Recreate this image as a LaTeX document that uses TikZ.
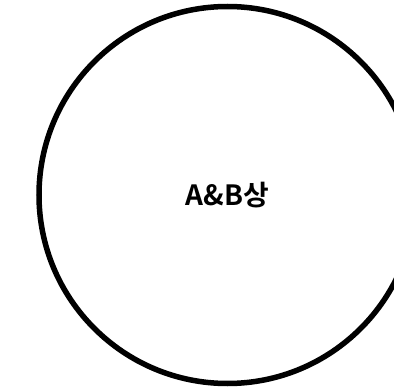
\documentclass[tikz,border=0pt]{standalone}
\usepackage{fontspec}
\usepackage{tikz}
\newfontfamily\krfont{Noto Sans CJK KR}[BoldFont={Noto Sans CJK KR Bold}]

\begin{document}
\begin{tikzpicture}[x=1bp, y=1bp, every node/.style={font=\krfont\bfseries\fontsize{28}{33}\selectfont}]
			\useasboundingbox (0,0) rectangle (394,389);
			\node[draw, circle, line width=5.5bp, minimum size=377bp, inner sep=0pt] (ab) at (227.5,194)
			{A\&B상};
		\end{tikzpicture}
\end{document}
